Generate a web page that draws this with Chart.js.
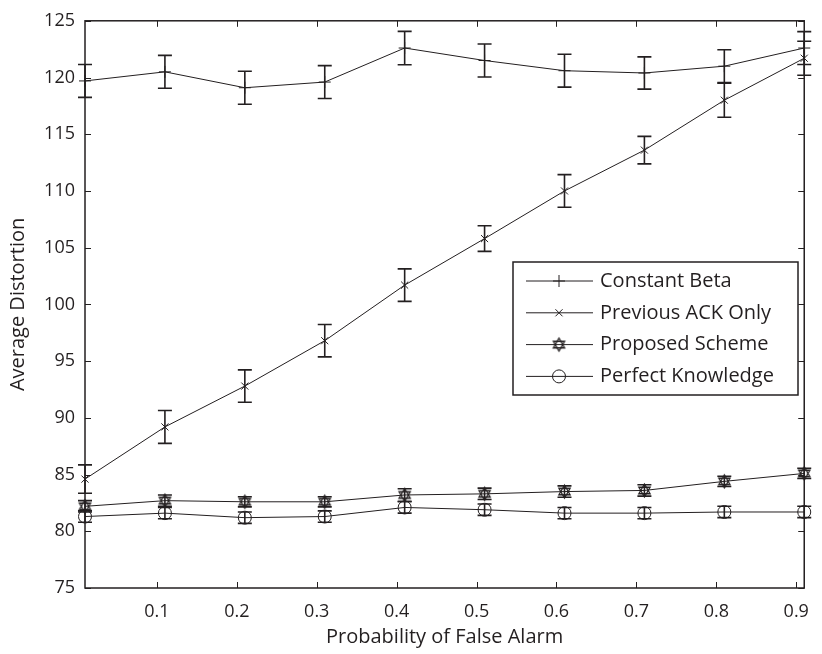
<!DOCTYPE html>
<html>
<head>
<meta charset="utf-8">
<script src="https://cdn.jsdelivr.net/npm/chart.js@4.4.1/dist/chart.umd.min.js"></script>
<style>
html, body { margin: 0; padding: 0; background: #fff; }
canvas { display: block; }
</style>
</head>
<body>
<canvas id="chart" width="822" height="654"></canvas>
<script>
// data
const falseAlarm = [0.01, 0.11, 0.21, 0.31, 0.41, 0.51, 0.61, 0.71, 0.81, 0.91];
const xTicks = [0.1, 0.2, 0.3, 0.4, 0.5, 0.6, 0.7, 0.8, 0.9];
const yTicks = [75, 80, 85, 90, 95, 100, 105, 110, 115, 120, 125];

const constantBeta    = [119.7, 120.5, 119.1, 119.6, 122.6, 121.5, 120.6, 120.4, 121.0, 122.6];
const constantBetaErr = [1.45, 1.45, 1.45, 1.45, 1.47, 1.45, 1.45, 1.42, 1.45, 1.45];

const previousAck     = [84.6, 89.2, 92.8, 96.8, 101.7, 105.8, 110.0, 113.6, 118.0, 121.7];
const previousAckErr  = [1.25, 1.45, 1.43, 1.43, 1.43, 1.13, 1.44, 1.21, 1.5, 1.5];

const proposed        = [82.2, 82.7, 82.6, 82.6, 83.2, 83.3, 83.5, 83.6, 84.4, 85.1];
const proposedErr     = [0.5, 0.5, 0.45, 0.45, 0.55, 0.5, 0.5, 0.5, 0.45, 0.45];

const perfect         = [81.3, 81.6, 81.2, 81.3, 82.1, 81.9, 81.6, 81.6, 81.7, 81.7];
const perfectErr      = [0.5, 0.5, 0.5, 0.5, 0.5, 0.5, 0.5, 0.5, 0.5, 0.5];

const seriesNames = ['Constant Beta', 'Previous ACK Only', 'Proposed Scheme', 'Perfect Knowledge'];

const ink = '#231f20';
const font = '"Open Sans", "DejaVu Sans", sans-serif';

// six pointed star marker (two triangles)
function hexagram(r) {
    const c = document.createElement('canvas');
    const s = Math.ceil(r * 2 + 4);
    c.width = s; c.height = s;
    const g = c.getContext('2d');
    g.strokeStyle = ink;
    g.lineWidth = 1.3;
    const cx = s / 2, cy = s / 2;
    [ -Math.PI / 2, Math.PI / 2 ].forEach(start => {
        g.beginPath();
        for (let i = 0; i < 3; i++) {
            const a = start + i * 2 * Math.PI / 3;
            const px = cx + r * Math.cos(a), py = cy + r * Math.sin(a);
            if (i === 0) g.moveTo(px, py); else g.lineTo(px, py);
        }
        g.closePath();
        g.stroke();
    });
    return c;
}

function toPoints(ys) {
    return falseAlarm.map((x, i) => ({ x: x, y: ys[i] }));
}

const errors = [constantBetaErr, previousAckErr, proposedErr, perfectErr];

const errorBars = {
    id: 'errorBars',
    afterDatasetsDraw(chart) {
        const { ctx, scales: { x, y } } = chart;
        ctx.save();
        ctx.strokeStyle = ink;
        ctx.lineWidth = 1.6;
        chart.data.datasets.forEach((ds, d) => {
            ds.data.forEach((p, i) => {
                const px = x.getPixelForValue(p.x);
                const top = y.getPixelForValue(p.y + errors[d][i]);
                const bot = y.getPixelForValue(p.y - errors[d][i]);
                ctx.beginPath();
                ctx.moveTo(px, top); ctx.lineTo(px, bot);
                ctx.moveTo(px - 7, top); ctx.lineTo(px + 7, top);
                ctx.moveTo(px - 7, bot); ctx.lineTo(px + 7, bot);
                ctx.stroke();
            });
        });
        ctx.restore();
    }
};

const axisBox = {
    id: 'axisBox',
    afterDatasetsDraw(chart) {
        const { ctx, chartArea: a, scales: { x, y } } = chart;
        ctx.save();
        ctx.strokeStyle = ink;
        ctx.lineWidth = 1.5;
        ctx.strokeRect(a.left, a.top, a.right - a.left, a.bottom - a.top);
        ctx.lineWidth = 1;
        ctx.beginPath();
        xTicks.forEach(v => {
            const px = Math.round(x.getPixelForValue(v)) + 0.5;
            ctx.moveTo(px, a.bottom); ctx.lineTo(px, a.bottom - 6);
            ctx.moveTo(px, a.top); ctx.lineTo(px, a.top + 6);
        });
        yTicks.forEach(v => {
            const py = Math.round(y.getPixelForValue(v)) + 0.5;
            ctx.moveTo(a.left, py); ctx.lineTo(a.left + 6, py);
            ctx.moveTo(a.right, py); ctx.lineTo(a.right - 6, py);
        });
        ctx.stroke();
        ctx.restore();
    }
};

const boxLegend = {
    id: 'boxLegend',
    afterDraw(chart) {
        const { ctx } = chart;
        const left = 513, top = 262, w = 285, h = 133;
        ctx.save();
        ctx.fillStyle = '#fff';
        ctx.fillRect(left, top, w, h);
        ctx.strokeStyle = ink;
        ctx.lineWidth = 1.5;
        ctx.strokeRect(left, top, w, h);
        ctx.font = '20px ' + font;
        ctx.textBaseline = 'middle';
        chart.data.datasets.forEach((ds, i) => {
            const yy = top + 19 + i * 31.8;
            ctx.strokeStyle = ink;
            ctx.lineWidth = 1;
            ctx.beginPath();
            ctx.moveTo(526, yy); ctx.lineTo(593, yy);
            ctx.stroke();
            ctx.fillStyle = 'rgba(0,0,0,0)';
            Chart.helpers.drawPoint(ctx, {
                pointStyle: ds.pointStyle,
                radius: ds.pointRadius,
                borderWidth: ds.pointBorderWidth,
                rotation: 0
            }, 559, yy);
            ctx.fillStyle = ink;
            ctx.fillText(ds.label, 600, yy);
        });
        ctx.restore();
    }
};

function series(label, ys, style, radius) {
    return {
        label: label,
        data: toPoints(ys),
        borderColor: ink,
        borderWidth: 1,
        pointStyle: style,
        pointRadius: radius,
        pointBorderColor: ink,
        pointBackgroundColor: 'rgba(0,0,0,0)',
        pointBorderWidth: 1,
        tension: 0,
        clip: false
    };
}

new Chart(document.getElementById('chart'), {
    type: 'line',
    data: {
        datasets: [
            series(seriesNames[0], constantBeta, 'cross', 6),
            series(seriesNames[1], previousAck, 'crossRot', 5),
            series(seriesNames[2], proposed, hexagram(6.5), 6.5),
            series(seriesNames[3], perfect, 'circle', 6.5)
        ]
    },
    options: {
        responsive: false,
        animation: false,
        devicePixelRatio: 1,
        layout: { padding: { top: 14, right: 9, left: 0, bottom: 0 } },
        plugins: { legend: { display: false }, tooltip: { enabled: false } },
        scales: {
            x: {
                type: 'linear',
                min: 0.01,
                max: 0.91,
                afterBuildTicks: s => { s.ticks = xTicks.map(v => ({ value: v })); },
                afterFit: s => { s.height = 66; },
                grid: { display: false, drawTicks: false },
                border: { display: false },
                ticks: { color: ink, padding: 13, font: { family: font, size: 18 }, maxRotation: 0,
                         callback: v => v.toString() },
                title: { display: true, text: 'Probability of False Alarm', color: ink,
                         font: { family: font, size: 20 }, padding: { top: 0, bottom: 5 } }
            },
            y: {
                min: 75,
                max: 125,
                afterBuildTicks: s => { s.ticks = yTicks.map(v => ({ value: v })); },
                afterFit: s => { s.width = 85; },
                grid: { display: false, drawTicks: false },
                border: { display: false },
                ticks: { color: ink, padding: 10, font: { family: font, size: 18 } },
                title: { display: true, text: 'Average Distortion', color: ink,
                         font: { family: font, size: 20 }, padding: { top: 6, bottom: 0 } }
            }
        }
    },
    plugins: [axisBox, errorBars, boxLegend]
});
</script>
</body>
</html>
